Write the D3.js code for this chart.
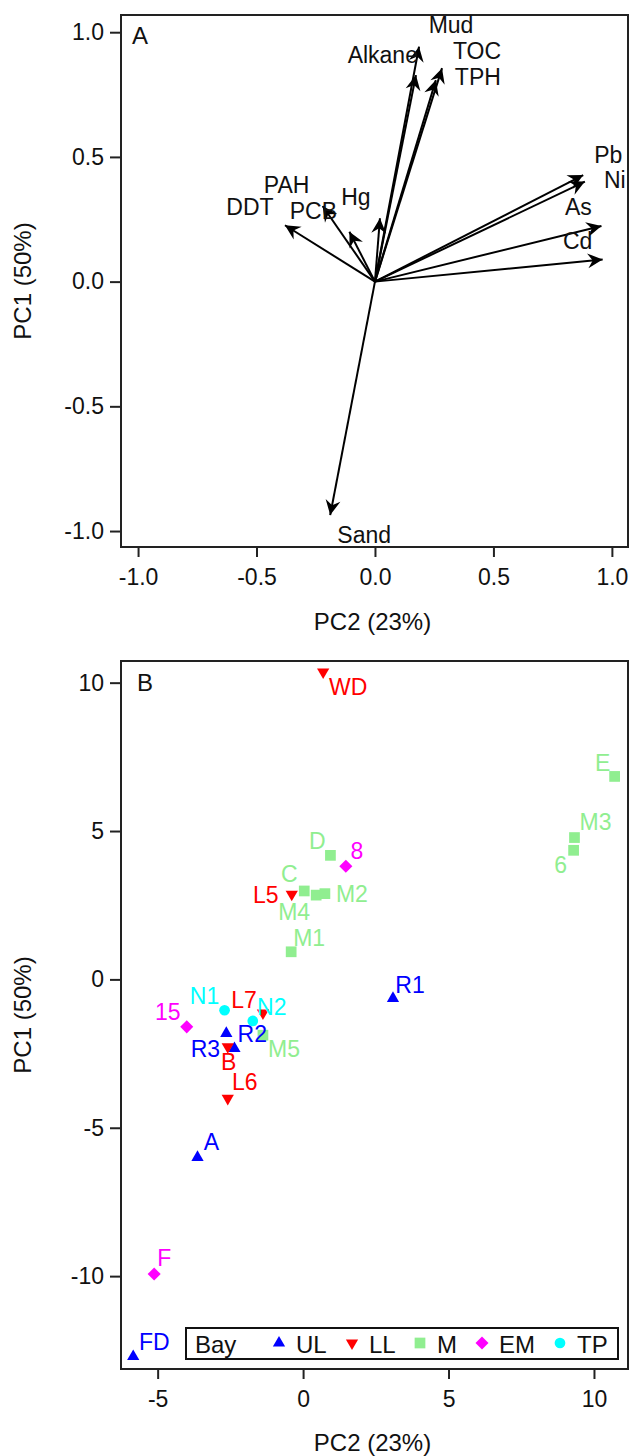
<!DOCTYPE html>
<html lang="en">
<head>
<meta charset="UTF-8">
<title>PCA biplot</title>
<script src="https://d3js.org/d3.v7.min.js"></script>
<style>
  body { margin: 0; background: #fff; }
  svg { display: block; font-family: "Liberation Sans", Arial, sans-serif; }
  .tick text { font-size: 23px; fill: #111; }
  .tick line { stroke: #222; stroke-width: 2px; }
  .frame { fill: none; stroke: #222; stroke-width: 2px; }
  .title { font-size: 24px; fill: #111; }
  .vlabel { font-size: 23px; fill: #111; }
  .slabel { font-size: 23px; }
</style>
</head>
<body>
<div id="chart"></div>
<script>
// Panel A: variable loadings
const varNames = ["Mud", "Alkane", "TOC", "TPH", "PAH", "DDT", "PCB", "Hg", "Pb", "Ni", "As", "Cd", "Sand"];
const varPC2 = [0.186, 0.173, 0.283, 0.257, -0.221, -0.380, -0.108, 0.021, 0.879, 0.886, 0.956, 0.961, -0.189];
const varPC1 = [0.942, 0.828, 0.856, 0.808, 0.303, 0.226, 0.200, 0.254, 0.427, 0.401, 0.223, 0.089, -0.936];

// Panel B: site scores
const sites = ["WD", "E", "M3", "6", "D", "8", "C", "L5", "M4", "M2", "M1", "R1", "N1", "L7", "N2", "15", "R2", "M5", "R3", "B", "L6", "A", "F", "FD"];
const sitePC2 = [0.69, 10.71, 9.33, 9.30, 0.94, 1.47, 0.04, -0.39, 0.45, 0.75, -0.41, 3.09, -2.70, -1.38, -1.73, -4.00, -2.64, -1.38, -2.36, -2.59, -2.59, -3.63, -5.12, -5.84];
const sitePC1 = [10.36, 6.84, 4.78, 4.35, 4.18, 3.81, 2.98, 2.87, 2.84, 2.89, 0.93, -0.64, -1.04, -1.13, -1.40, -1.60, -1.82, -1.88, -2.33, -2.27, -4.01, -6.00, -9.93, -12.71];
const siteBay = ["LL", "M", "M", "M", "M", "EM", "M", "LL", "M", "M", "M", "UL", "TP", "LL", "TP", "EM", "UL", "M", "UL", "LL", "LL", "UL", "EM", "UL"];

const bays = ["UL", "LL", "M", "EM", "TP"];
const bayColors = ["#0000ff", "#ff0000", "#90ee90", "#ff00ff", "#00ffff"];
const xTicksA = [-1, -0.5, 0, 0.5, 1];
const yTicksA = [-1, -0.5, 0, 0.5, 1];
const xTicksB = [-5, 0, 5, 10];
const yTicksB = [-10, -5, 0, 5, 10];

// label nudges in pixels (layout only)
const varNudge = {
  Mud: [32, -22, "middle"], Alkane: [2, -20, "end"], TOC: [35, -17, "middle"], TPH: [42, -3, "middle"],
  PAH: [-36, -21, "middle"], DDT: [-35, -19, "middle"], PCB: [-36, -21, "middle"], Hg: [-24, -22, "middle"],
  Pb: [25, -20, "middle"], Ni: [30, -2, "middle"], As: [-23, -19, "middle"], Cd: [-25, -19, "middle"],
  Sand: [34, 20, "middle"]
};
const siteNudge = {
  WD: [25, 15], E: [-12, -14], M3: [21, -16], "6": [-13, 14], D: [-13, -15], "8": [11, -16],
  C: [-15, -17], L5: [-26, 0], M4: [-22, 17], M2: [27, 0], M1: [18, -14], R1: [17, -14],
  N1: [-20, -15], L7: [-19, -13], N2: [19, -14], "15": [-19, -15], R2: [26, 0], M5: [21, 14],
  R3: [-29, 0], B: [1, 15], L6: [17, -17], A: [14, -16], F: [10, -16], FD: [21, -15]
};

const width = 630, height = 1456;
const left = 121, right = 628;

const svg = d3.select("#chart").append("svg")
  .attr("width", width).attr("height", height);

svg.append("defs").append("marker")
  .attr("id", "head")
  .attr("viewBox", "-16 -8 17 16")
  .attr("refX", 0).attr("refY", 0)
  .attr("markerWidth", 17).attr("markerHeight", 16)
  .attr("markerUnits", "userSpaceOnUse")
  .attr("orient", "auto")
  .append("path")
  .attr("d", "M0,0 L-15,-7.5 L-10,0 L-15,7.5 Z")
  .attr("fill", "#000");

function drawAxes(x, y, xTicks, yTicks, fmt, top, bottom) {
  svg.append("g")
    .attr("transform", `translate(0,${bottom})`)
    .call(d3.axisBottom(x).tickValues(xTicks).tickFormat(fmt).tickSize(10).tickPadding(12).tickSizeOuter(0))
    .call(g => g.select(".domain").remove());
  svg.append("g")
    .attr("transform", `translate(${left},0)`)
    .call(d3.axisLeft(y).tickValues(yTicks).tickFormat(fmt).tickSize(11).tickPadding(6).tickSizeOuter(0))
    .call(g => g.select(".domain").remove());
  svg.append("rect").attr("class", "frame")
    .attr("x", left).attr("y", top)
    .attr("width", right - left).attr("height", bottom - top);
}

// ---- Panel A ----
const topA = 15, bottomA = 547;
const xA = d3.scaleLinear().domain([-1.072, 1.068]).range([left, right]);
const yA = d3.scaleLinear().domain([-1.064, 1.069]).range([bottomA, topA]);

drawAxes(xA, yA, xTicksA, yTicksA, d => d.toFixed(1), topA, bottomA);

const gA = svg.append("g");
varNames.forEach((name, i) => {
  gA.append("line")
    .attr("x1", xA(0)).attr("y1", yA(0))
    .attr("x2", xA(varPC2[i])).attr("y2", yA(varPC1[i]))
    .attr("stroke", "#000").attr("stroke-width", 2)
    .attr("marker-end", "url(#head)");
});
varNames.forEach((name, i) => {
  const n = varNudge[name];
  gA.append("text").attr("class", "vlabel")
    .attr("x", xA(varPC2[i]) + n[0]).attr("y", yA(varPC1[i]) + n[1])
    .attr("dy", "0.36em")
    .attr("text-anchor", n[2])
    .text(name);
});

svg.append("text").attr("class", "title").attr("x", 132).attr("y", 44).text("A");
svg.append("text").attr("class", "title")
  .attr("x", (left + right) / 2 - 2).attr("y", 630)
  .attr("text-anchor", "middle").text("PC2 (23%)");
svg.append("text").attr("class", "title")
  .attr("transform", `translate(31,${(topA + bottomA) / 2}) rotate(-90)`)
  .attr("text-anchor", "middle").text("PC1 (50%)");

// ---- Panel B ----
const topB = 661, bottomB = 1369;
const xB = d3.scaleLinear().domain([-6.26, 11.17]).range([left, right]);
const yB = d3.scaleLinear().domain([-13.13, 10.73]).range([bottomB, topB]);

drawAxes(xB, yB, xTicksB, yTicksB, d => String(d), topB, bottomB);

const color = d3.scaleOrdinal().domain(bays).range(bayColors);
const symbolFor = {
  UL: { type: d3.symbolTriangle, size: 65, rot: 0 },
  LL: { type: d3.symbolTriangle, size: 65, rot: 180 },
  M: { type: d3.symbolSquare, size: 115, rot: 0 },
  EM: { type: d3.symbolSquare, size: 85, rot: 45 },
  TP: { type: d3.symbolCircle, size: 90, rot: 0 }
};
function symbolPath(bay) {
  const s = symbolFor[bay];
  return d3.symbol().type(s.type).size(s.size)();
}

const gB = svg.append("g");
sites.forEach((name, i) => {
  const bay = siteBay[i];
  gB.append("path")
    .attr("d", symbolPath(bay))
    .attr("transform", `translate(${xB(sitePC2[i])},${yB(sitePC1[i])}) rotate(${symbolFor[bay].rot})`)
    .attr("fill", color(bay));
});
sites.forEach((name, i) => {
  const n = siteNudge[name];
  gB.append("text").attr("class", "slabel")
    .attr("x", xB(sitePC2[i]) + n[0]).attr("y", yB(sitePC1[i]) + n[1])
    .attr("dy", "0.36em")
    .attr("text-anchor", "middle")
    .attr("fill", color(siteBay[i]))
    .text(name);
});

svg.append("text").attr("class", "title").attr("x", 137).attr("y", 691).text("B");
svg.append("text").attr("class", "title")
  .attr("x", (left + right) / 2 - 2).attr("y", 1451)
  .attr("text-anchor", "middle").text("PC2 (23%)");
svg.append("text").attr("class", "title")
  .attr("transform", `translate(31,${(topB + bottomB) / 2}) rotate(-90)`)
  .attr("text-anchor", "middle").text("PC1 (50%)");

// legend
const lg = svg.append("g").attr("transform", "translate(186,1328)");
lg.append("rect").attr("width", 432).attr("height", 31)
  .attr("fill", "#fff").attr("stroke", "#111").attr("stroke-width", 2);
lg.append("text").attr("class", "title").attr("x", 9).attr("y", 16).attr("dy", "0.36em").text("Bay");
const legendX = [93, 166, 234, 296, 374];
bays.forEach((bay, i) => {
  lg.append("path")
    .attr("d", symbolPath(bay))
    .attr("transform", `translate(${legendX[i]},15) rotate(${symbolFor[bay].rot})`)
    .attr("fill", color(bay));
  lg.append("text").attr("class", "title")
    .attr("x", legendX[i] + 17).attr("y", 16).attr("dy", "0.36em")
    .text(bay);
});
</script>
</body>
</html>
